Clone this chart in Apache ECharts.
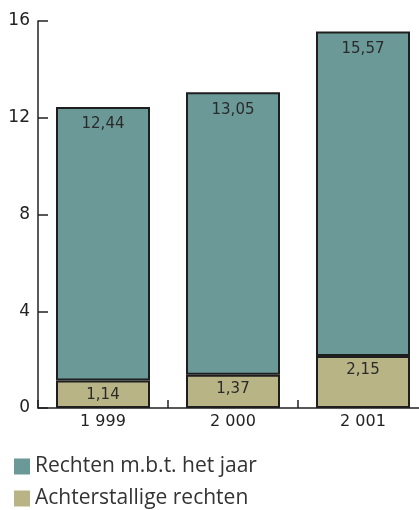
<!DOCTYPE html>
<html><head><meta charset="utf-8">
<script src="https://cdn.jsdelivr.net/npm/echarts@6/dist/echarts.min.js"></script>
<style>html,body{margin:0;padding:0;background:#fff;overflow:hidden}#c{width:428px;height:510px}</style>
</head><body><div id="c"></div>
<script>
var categories = ['1 999', '2 000', '2 001'];
var achterstallig = [1.14, 1.37, 2.15];
var totaal = [12.44, 13.05, 15.57];
var yTicks = [0, 4, 8, 12, 16];
var nameJaar = 'Rechten m.b.t. het jaar';
var nameAchter = 'Achterstallige rechten';

var jaarSegment = totaal.map(function (t, i) { return +(t - achterstallig[i]).toFixed(2); });
function fmt(v) { return v.toFixed(2).replace('.', ','); }

var legendBase = {
  orient: 'vertical', left: 9, itemWidth: 16, itemHeight: 16,
  icon: 'rect', itemStyle: {borderWidth: 0},
  textStyle: {fontSize: 21, color: '#333', fontFamily: 'Open Sans', padding: [0, 0, 0, 0]}
};

var chart = echarts.init(document.getElementById('c'), null, {renderer: 'canvas'});
chart.setOption({
  animation: false,
  textStyle: {fontFamily: 'DejaVu Sans'},
  grid: {left: 38, top: 21, right: 0, bottom: 102, containLabel: false},
  xAxis: {
    type: 'category', data: categories,
    axisLine: {lineStyle: {color: '#222', width: 1.5}},
    axisTick: {show: true, inside: true, length: 8, alignWithLabel: false, lineStyle: {color: '#222', width: 1.5}},
    axisLabel: {color: '#222', fontSize: 16, margin: 6, fontFamily: 'DejaVu Sans'}
  },
  yAxis: {
    type: 'value', min: yTicks[0], max: yTicks[yTicks.length - 1], interval: 4,
    axisLine: {show: true, lineStyle: {color: '#222', width: 1.5}},
    axisTick: {show: true, inside: true, length: 10, lineStyle: {color: '#222', width: 1.5}},
    splitLine: {show: false},
    axisLabel: {color: '#222', fontSize: 17, margin: 8, fontFamily: 'DejaVu Sans'}
  },
  legend: [
    Object.assign({}, legendBase, {top: 451, data: [nameJaar]}),
    Object.assign({}, legendBase, {top: 483, data: [nameAchter]})
  ],
  series: [
    {
      name: nameAchter, type: 'bar', stack: 's', barWidth: 94,
      data: achterstallig,
      itemStyle: {color: '#b9b485', borderColor: '#1e1e1e', borderWidth: 2},
      label: {show: true, position: 'insideTop', distance: 7, color: '#2a2a2a', fontSize: 15,
        formatter: function (p) { return fmt(achterstallig[p.dataIndex]); }}
    },
    {
      name: nameJaar, type: 'bar', stack: 's', barWidth: 94,
      data: jaarSegment,
      itemStyle: {color: '#6b9998', borderColor: '#1e1e1e', borderWidth: 2},
      label: {show: true, position: 'insideTop', distance: 10, color: '#2a2a2a', fontSize: 15,
        formatter: function (p) { return fmt(totaal[p.dataIndex]); }}
    }
  ]
});
</script></body></html>
